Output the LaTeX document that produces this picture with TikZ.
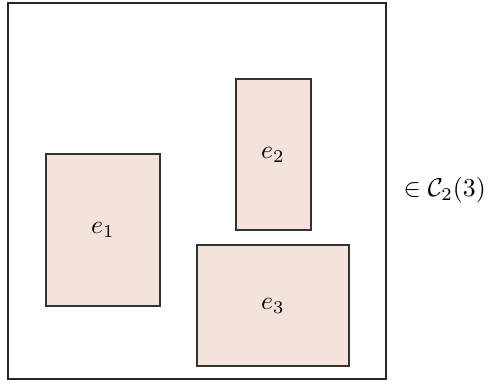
\documentclass[tikz,border=0pt]{standalone}
\definecolor{boxfill}{RGB}{244,227,219}
\begin{document}
\begin{tikzpicture}[x=0.388pt,y=-0.388pt,
  cell/.style={draw=black!80,fill=boxfill,line width=0.4pt}]
\useasboundingbox (0,0) rectangle (488,383);
\draw[line width=0.4pt,black!85] (8,3) rectangle (386,379);
\draw[cell] (46,154) rectangle (160,306);
\draw[cell] (236,79) rectangle (311,230);
\draw[cell] (197,245) rectangle (349,366);
\node (e1) at (103,230) {$e_1$};
\node (e2) at (273,155) {$e_2$};
\node (e3) at (273,306) {$e_3$};
\node[anchor=west,inner sep=0pt] (lab) at (403,190) {$\in \mathcal{C}_2(3)$};
\end{tikzpicture}
\end{document}
